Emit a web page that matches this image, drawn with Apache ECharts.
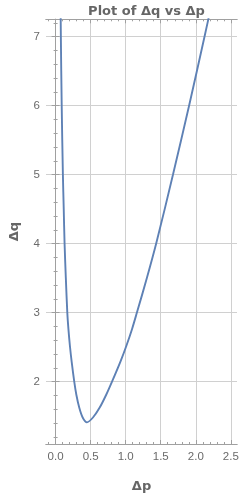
<!DOCTYPE html>
<html>
<head>
<meta charset="utf-8">
<script src="https://cdn.jsdelivr.net/npm/echarts@6/dist/echarts.min.js"></script>
<style>
html,body{margin:0;padding:0;background:#fff;}
#main{width:249px;height:498px;}
</style>
</head>
<body>
<div id="main"></div>
<script>
// Δp values (x) and Δq values (y)
const deltaP = [0.069, 0.075, 0.087, 0.104, 0.116, 0.128, 0.146, 0.167, 0.183, 0.204, 0.229, 0.266, 0.296, 0.338, 0.386, 0.447,
                0.533, 0.627, 0.722, 0.805, 0.925, 1.010, 1.090, 1.160, 1.302, 1.435, 1.675, 1.905, 2.125, 2.232];
const deltaQ = [7.70, 7.00, 6.00, 5.00, 4.50, 4.00, 3.50, 3.00, 2.76, 2.52, 2.29, 2.00, 1.81, 1.62, 1.48, 1.41,
                1.48, 1.62, 1.81, 2.00, 2.29, 2.52, 2.76, 3.00, 3.50, 4.00, 5.00, 6.00, 7.00, 7.50];

const xTicks = [0, 0.5, 1.0, 1.5, 2.0, 2.5];
const yTicks = [2, 3, 4, 5, 6, 7];
const xMinorTicks = [-0.1, 0.1, 0.2, 0.3, 0.4, 0.6, 0.7, 0.8, 0.9, 1.1, 1.2, 1.3, 1.4, 1.6, 1.7, 1.8, 1.9, 2.1, 2.2, 2.3, 2.4];
const yMinorTicks = [1.2, 1.4, 1.6, 1.8, 2.2, 2.4, 2.6, 2.8, 3.2, 3.4, 3.6, 3.8, 4.2, 4.4, 4.6, 4.8,
                     5.2, 5.4, 5.6, 5.8, 6.2, 6.4, 6.6, 6.8, 7.2];

const X_MIN = -0.137, X_MAX = 2.588;
const Y_MIN = 1.096, Y_MAX = 7.25;

const FONT = 'Liberation Sans';
const BOLD_FONT = 'DejaVu Sans';
const FRAME = '#a0a0a0';
const GRID = '#d0d0d0';
const LABEL = '#6a6a6a';

function xAxisDef(position, ticks, len, withLabels, withSplit, name) {
  return {
    type: 'value', position: position, min: X_MIN, max: X_MAX,
    name: name || '', nameLocation: 'middle', nameGap: 36,
    nameTextStyle: {fontFamily: BOLD_FONT, fontSize: 13, fontWeight: 'bold', color: '#666'},
    axisLine: {show: true, lineStyle: {color: FRAME, width: 1}},
    axisTick: {show: true, inside: true, length: len, customValues: ticks, lineStyle: {color: FRAME, width: 1}},
    axisLabel: {show: withLabels, customValues: ticks, margin: 7, fontFamily: FONT, fontSize: 11.5, color: LABEL,
                formatter: v => Number(v).toFixed(1)},
    splitLine: {show: withSplit, lineStyle: {color: GRID, width: 1}},
    minorTick: {show: false}, minorSplitLine: {show: false}
  };
}
function yAxisDef(position, ticks, len, withLabels, withSplit, name) {
  return {
    type: 'value', position: position, min: Y_MIN, max: Y_MAX,
    name: name || '', nameLocation: 'middle', nameGap: 25,
    nameTextStyle: {fontFamily: BOLD_FONT, fontSize: 13, fontWeight: 'bold', color: '#666'},
    axisLine: {show: true, lineStyle: {color: FRAME, width: 1}},
    axisTick: {show: true, inside: true, length: len, customValues: ticks, lineStyle: {color: FRAME, width: 1}},
    axisLabel: {show: withLabels, customValues: ticks, margin: 6, fontFamily: FONT, fontSize: 11.5, color: LABEL,
                formatter: v => String(Math.round(v))},
    splitLine: {show: withSplit, lineStyle: {color: GRID, width: 1}},
    minorTick: {show: false}, minorSplitLine: {show: false}
  };
}

const chart = echarts.init(document.getElementById('main'), null, {renderer: 'canvas'});
chart.setOption({
  animation: false,
  backgroundColor: '#fff',
  title: {
    text: 'Plot of Δq vs Δp', left: 141.5, top: 0, textAlign: 'center',
    textStyle: {fontFamily: BOLD_FONT, fontSize: 13, fontWeight: 'bold', color: '#666'}
  },
  grid: {left: 45.7, right: 12, top: 19.3, bottom: 48, containLabel: false},
  xAxis: [
    xAxisDef('bottom', xTicks, 4, true, true, 'Δp'),
    xAxisDef('bottom', xMinorTicks, 2, false, false),
    xAxisDef('top', xTicks, 4, false, false),
    xAxisDef('top', xMinorTicks, 2, false, false)
  ],
  yAxis: [
    yAxisDef('left', yTicks, 4, true, true, 'Δq'),
    yAxisDef('left', yMinorTicks, 2, false, false),
    yAxisDef('right', yTicks, 4, false, false),
    yAxisDef('right', yMinorTicks, 2, false, false)
  ],
  series: [{
    type: 'line',
    xAxisIndex: 0, yAxisIndex: 0,
    data: deltaP.map((p, i) => [p, deltaQ[i]]),
    smooth: 0.3,
    showSymbol: false,
    clip: true,
    lineStyle: {color: '#5E81B5', width: 1.9}
  }]
});
</script>
</body>
</html>
